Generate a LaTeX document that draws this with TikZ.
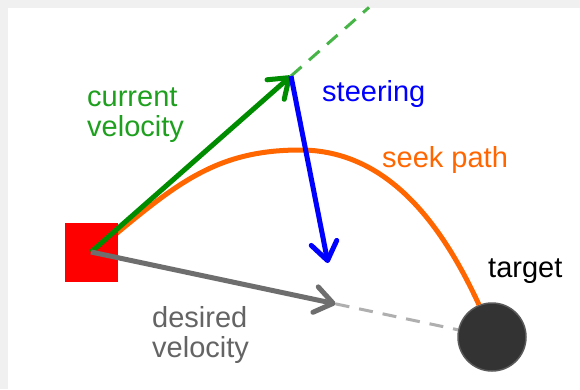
\documentclass[tikz,border=0pt]{standalone}
\usepackage{fontspec}
\setmainfont{Liberation Sans}
\usetikzlibrary{arrows.meta, calc}
\definecolor{framegray}{RGB}{240,240,240}
\definecolor{velgreen}{RGB}{0,140,0}
\definecolor{labgreen}{RGB}{30,160,30}
\definecolor{dashgreen}{RGB}{70,180,70}
\definecolor{seekorange}{RGB}{255,102,0}
\definecolor{velgray}{RGB}{110,110,110}
\definecolor{labgray}{RGB}{100,100,100}
\definecolor{dashgray}{RGB}{175,175,175}
\definecolor{tgtfill}{RGB}{51,51,51}
\definecolor{tgtedge}{RGB}{90,90,90}

\begin{document}
\begin{tikzpicture}[x=1pt, y=-1pt,
  every node/.style={inner sep=0pt},
  lbl/.style={font=\fontsize{29}{30}\selectfont, align=left, anchor=base west},
  vec/.style={line width=5pt,
              -{Straight Barb[length=18pt, width=26pt, round]}},
  ext/.style={line width=3pt, dash pattern=on 14pt off 10pt},
  agentbox/.style={fill=red, minimum width=53pt, minimum height=59pt},
  tgt/.style={circle, fill=tgtfill, draw=tgtedge, line width=1.5pt,
              minimum size=68pt}]
\useasboundingbox (0,0) rectangle (580,389);
\fill[framegray] (0,0) rectangle (580,389);
\fill[white] (8,8) rectangle (580,389);

\coordinate (o) at (91,252);
\node[tgt] (target) at (492,337) {};

% seek path
\draw[seekorange, line width=5pt]
  (105,243) .. controls (175,185) and (215,150) .. (300,150)
      .. controls (385,150) and (440,220) .. (target.112);

\node[agentbox] (agent) at (o) {};

\coordinate (cv) at (291,76);
\coordinate (dv) at ($(agent.center)!0.61!(target.center)$);
\coordinate (sv) at (328,263);
\coordinate (far) at ($(agent.center)!1.39!(cv)$);

\draw[ext, dashgreen] (cv) -- (far);
\draw[ext, dashgray] (dv) -- (target);

\draw[vec, velgreen] (agent.center) -- (cv);
\draw[vec, velgray] (agent.center) -- (dv);
\draw[vec, blue] (cv) -- (sv);

\node[lbl, text=labgreen] (curlbl) at (87,136) {current\\velocity};
\node[lbl, text=blue] (steerlbl) at (322,101) {steering};
\node[lbl, text=seekorange] (seeklbl) at (382,167) {seek path};
\node[lbl, text=labgray] (deslbl) at (152,357) {desired\\velocity};
\node[lbl] (tgtlbl) at (488,277) {target};
\end{tikzpicture}
\end{document}
